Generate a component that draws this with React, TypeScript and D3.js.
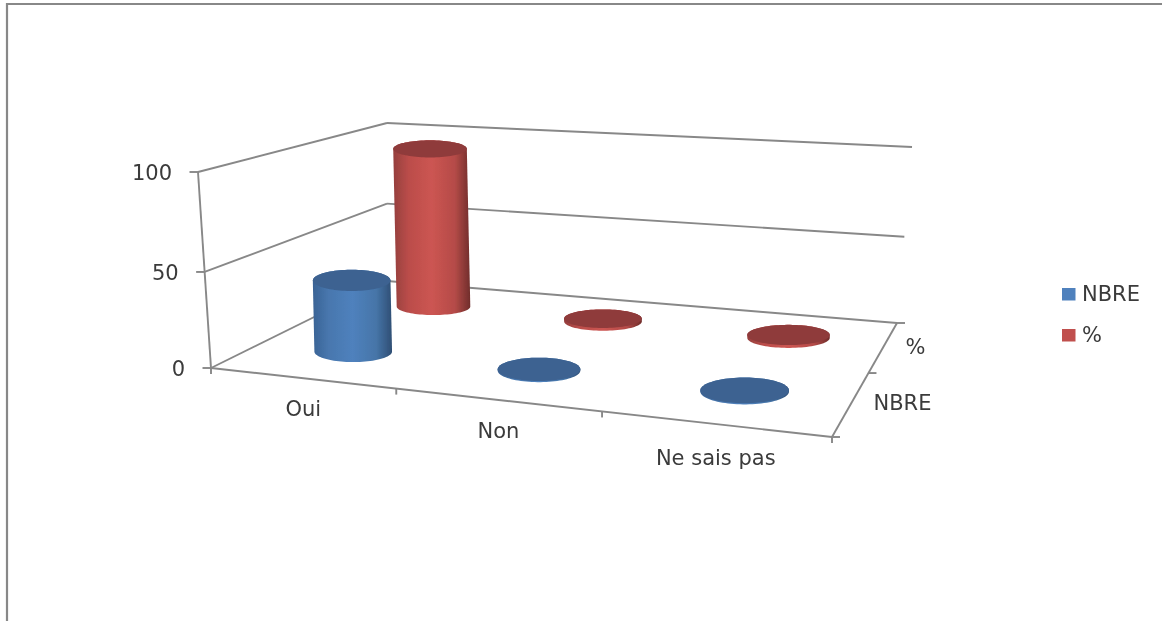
import React from "react";
import * as d3 from "d3";

const categories = ["Oui", "Non", "Ne sais pas"];
const seriesNames = ["NBRE", "%"];
const nbreValues = [38.5, 0.6, 0.6];
const pctValues = [93, 1.6, 1.6];
const valueTicks = [0, 50, 100];

const W = 1162, H = 621;

type P = [number, number];
function homography(a: P, b: P, c: P, d: P) {
  // (0,0)->a, (1,0)->b, (1,1)->c, (0,1)->d
  const dx1 = b[0] - c[0], dx2 = d[0] - c[0], sx = a[0] - b[0] + c[0] - d[0];
  const dy1 = b[1] - c[1], dy2 = d[1] - c[1], sy = a[1] - b[1] + c[1] - d[1];
  const den = dx1 * dy2 - dx2 * dy1;
  const g = (sx * dy2 - dx2 * sy) / den;
  const h = (dx1 * sy - sx * dy1) / den;
  const A = b[0] - a[0] + g * b[0], B = d[0] - a[0] + h * d[0], C = a[0];
  const D = b[1] - a[1] + g * b[1], E = d[1] - a[1] + h * d[1], F = a[1];
  return (u: number, v: number): P => {
    const w = g * u + h * v + 1;
    return [(A * u + B * v + C) / w, (D * u + E * v + F) / w];
  };
}

const floor = homography([211, 368], [832, 437], [897, 323], [387, 281]);
const ceiling = homography([198, 172], [848, 240], [912, 147], [387, 123]);

const uScale = d3.scaleBand<string>().domain(categories).range([0, 1]);
const vScale = d3.scaleBand<string>().domain(seriesNames).range([0, 1]);
const hScale = d3.scaleLinear().domain([0, 50, 100]).range([0, 0.49, 1]);

function project(u: number, v: number, value: number): P {
  const t = hScale(value);
  const f = floor(u, v), c = ceiling(u, v);
  return [f[0] + (c[0] - f[0]) * t, f[1] + (c[1] - f[1]) * t];
}

const RU = 0.0655, RV = 0.106;
const MARK_DX = 4.5;
const LEAN = 0.022;
const angles = d3.range(0, 90).map((i) => (i / 90) * Math.PI * 2);
const line = d3.line().curve(d3.curveLinearClosed);

const PALETTE: Record<string, { side: string[]; cap: string; swatch: string }> = {
  NBRE: { side: ["#3a6395", "#4877ae", "#4f81bd", "#4675a8", "#2f4e74"], cap: "#3c6291", swatch: "#4f81bd" },
  "%": { side: ["#953f3d", "#bb4d4a", "#cc5552", "#b54b48", "#702d2b"], cap: "#8f3a3a", swatch: "#c0504d" },
};

function Cylinder({ cat, series, value }: { cat: string; series: string; value: number }) {
  const cu = uScale(cat)! + uScale.bandwidth() / 2;
  const cv = vScale(series)! + vScale.bandwidth() / 2;
  const c0 = floor(cu, cv);
  const rawRx = (floor(cu + RU, cv)[0] - floor(cu - RU, cv)[0]) / 2;
  const rx = 0.7 * rawRx + 14.5;
  const ry = (floor(cu, cv - RV)[1] - floor(cu, cv + RV)[1]) / 2;
  const lift = c0[1] - project(cu, cv, value)[1];
  const cx = c0[0] + MARK_DX;
  const ring = (dx: number, dy: number): P[] =>
    angles.map((a) => [cx + dx + rx * Math.cos(a), c0[1] + dy + ry * Math.sin(a)] as P);
  const base = ring(0, 0);
  const top = ring(-LEAN * lift, -lift);
  const hull = d3.polygonHull([...base, ...top])!;
  return (
    <g>
      <path d={line(hull)!} fill={`url(#side-${series === "%" ? "pct" : "nbre"})`} />
      <path d={line(top)!} fill={PALETTE[series].cap} />
    </g>
  );
}

const GREY = "#888888";
const TEXT = "#3a3a3a";

export default function App() {
  const seg = (a: P, b: P, key: string) => (
    <line key={key} x1={a[0]} y1={a[1]} x2={b[0]} y2={b[1]} stroke={GREY} strokeWidth={1.9} />
  );
  const vTicks = d3.range(0, seriesNames.length + 1);
  const uTicks = d3.range(0, categories.length + 1);
  const labelFont = { fontFamily: "'DejaVu Sans', sans-serif", fontSize: 21, fill: TEXT };
  return (
    <svg width={W} height={H} style={{ position: "absolute", left: 0, top: 0, background: "#fff" }}>
      <defs>
        {[["nbre", "NBRE"], ["pct", "%"]].map(([id, name]) => (
          <linearGradient key={id} id={`side-${id}`} x1="0" x2="1" y1="0" y2="0">
            {PALETTE[name].side.map((col, i) => (
              <stop key={i} offset={[0, 0.2, 0.5, 0.8, 1][i]} stopColor={col} />
            ))}
          </linearGradient>
        ))}
        <filter id="soft"><feGaussianBlur stdDeviation="0.45" /></filter>
      </defs>
      <path d={`M7,621 V4 H1162`} fill="none" stroke={GREY} strokeWidth={2.2} />
      <g filter="url(#soft)">
        {valueTicks.map((t) => {
          const p = project(0, 0, t);
          return (
            <g key={t}>
              {seg(p, project(0, 1, t), `l${t}`)}
              {seg(project(0, 1, t), project(1, 1, t), `b${t}`)}
              {seg([p[0] - 8.5, p[1]], p, `t${t}`)}
              <text x={p[0] - 26} y={p[1] + 8} textAnchor="end" {...labelFont}>{t}</text>
            </g>
          );
        })}
        {seg(project(0, 0, 0), project(0, 0, 100), "axisY")}
        {seg(project(0, 0, 0), project(1, 0, 0), "axisX")}
        {seg(project(1, 0, 0), project(1, 1, 0), "axisZ")}
        {uTicks.map((i) => {
          const p = project(i / categories.length, 0, 0);
          return seg(p, [p[0], p[1] + 6], `ut${i}`);
        })}
        {vTicks.map((i) => {
          const p = project(1, i / seriesNames.length, 0);
          return seg(p, [p[0] + 8, p[1]], `vt${i}`);
        })}
        {categories.map((c, i) => <Cylinder key={c} cat={c} series="%" value={pctValues[i]} />)}
        {categories.map((c, i) => <Cylinder key={c} cat={c} series="NBRE" value={nbreValues[i]} />)}
        {categories.map((c, i) => {
          const p = project(uScale(c)! + uScale.bandwidth() / 2, 0, 0);
          return <text key={c} x={p[0] + 2} y={p[1] + 38 + (i === 2 ? 3 : 0)} textAnchor="middle" {...labelFont}>{c}</text>;
        })}
        {seriesNames.map((s) => {
          const p = project(1, vScale(s)! + vScale.bandwidth() / 2, 0);
          return <text key={s} x={p[0] + 22} y={p[1] + 7} {...labelFont}>{s}</text>;
        })}
        {seriesNames.map((s, i) => (
          <g key={s}>
            <rect x={1062} y={288 + i * 41} width={13.5} height={12.5} fill={PALETTE[s].swatch} />
            <text x={1082} y={301 + i * 41} {...labelFont}>{s}</text>
          </g>
        ))}
      </g>
    </svg>
  );
}
